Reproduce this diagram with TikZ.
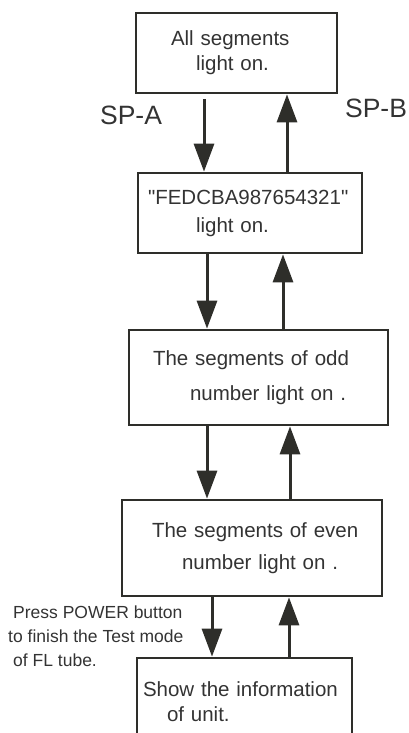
\documentclass[tikz,border=0pt]{standalone}
\usepackage{fontspec}
\setmainfont{Liberation Sans}[Ligatures=TeXOff]
\usetikzlibrary{arrows.meta}
\definecolor{ink}{HTML}{2E2E2A}
\definecolor{txt}{HTML}{333333}

\begin{document}
\begin{tikzpicture}[x=1pt,y=-1pt,
    box/.style={draw=ink,line width=2.7pt,inner xsep=0pt,inner ysep=0pt,align=left,
        text=txt,font=\fontsize{20.5}{25}\selectfont},
    flow/.style={draw=ink,line width=3pt,-{Triangle[width=20pt,length=28pt]}},
    sp/.style={text=txt,font=\fontsize{26.5}{30}\selectfont}]
        \useasboundingbox (0,0) rectangle (409,733);
        \clip (0,0) rectangle (409,733);
        % Boxes
        \node[box,minimum width=201,minimum height=80,text width=201] (all) at (236.5,53)
            {\hspace*{35pt}All segments\\\hspace*{60pt}light on.};
        \node[box,minimum width=224,minimum height=80,text width=224] (hex) at (250,213)
            {\hspace*{10pt}"FEDCBA987654321"\\[3pt]\hspace*{58pt}light on.};
        \node[box,minimum width=259,minimum height=95,text width=259] (odd) at (258.5,377.5)
            {\hspace*{24pt}The segments of odd\\[10pt]\hspace*{61pt}number light on .};
        \node[box,minimum width=260,minimum height=96,text width=260] (even) at (252,548)
            {\hspace*{30pt}The segments of even\\[7pt]\hspace*{60pt}number light on .};
        \node[box,minimum width=215,minimum height=87,text width=215] (info) at (244.5,701.5)
            {\hspace*{6pt}Show the information\\\hspace*{30pt}of unit.};
        % Labels
        \node[sp] (spa) at (131,115) {SP-A};
        \node[sp] (spb) at (376,108) {SP-B};
        \node[anchor=west,inner sep=0pt,align=left,text=txt,font=\fontsize{17.5}{24}\selectfont]
            (note) at (8,636) {\hspace*{5pt}Press POWER button\\to finish the Test mode\\\hspace*{5pt}of FL tube.};
        % Arrows
        \draw[flow,shorten <=5pt] ([xshift=-32.5]all.south) -- ([xshift=-32.5]all.south |- hex.north);
        \draw[flow] ([xshift=37]hex.north) -- ([xshift=37]hex.north |- all.south);
        \draw[flow] ([xshift=-43]hex.south) -- ([xshift=-43]hex.south |- odd.north);
        \draw[flow] ([xshift=24.5]odd.north) -- ([xshift=24.5]odd.north |- hex.south);
        \draw[flow] ([xshift=-51.5]odd.south) -- ([xshift=-51.5]odd.south |- even.north);
        \draw[flow] ([xshift=38]even.north) -- ([xshift=38]even.north |- odd.south);
        \draw[flow] ([xshift=-40]even.south) -- ([xshift=-40]even.south |- info.north);
        \draw[flow] ([xshift=44.5]info.north) -- ([xshift=44.5]info.north |- even.south);
    \end{tikzpicture}
\end{document}
